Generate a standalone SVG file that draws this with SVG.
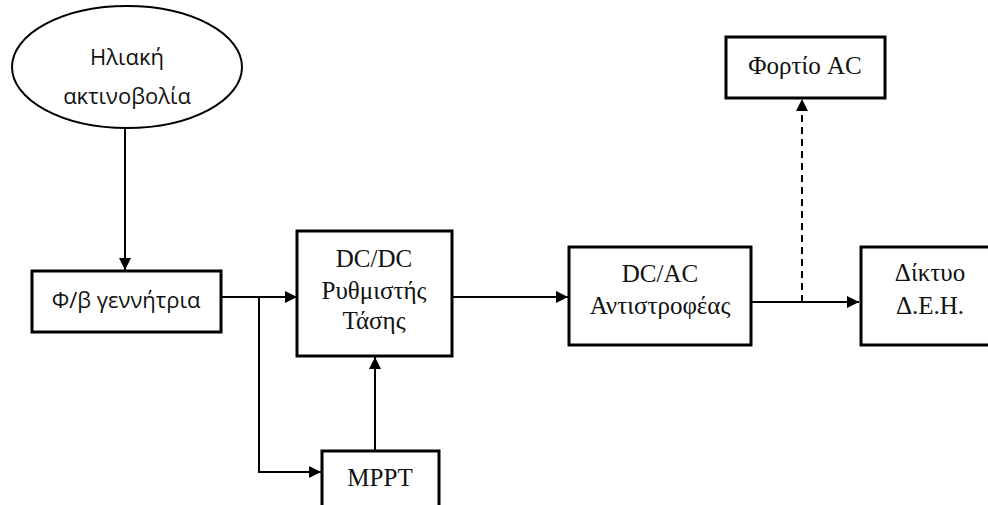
<svg xmlns="http://www.w3.org/2000/svg" width="988" height="505" viewBox="0 0 988 505">
<defs>
<marker id="ah" viewBox="0 0 12 12" refX="12" refY="6" markerWidth="12" markerHeight="12" markerUnits="userSpaceOnUse" orient="auto">
<path d="M0,0 L12,6 L0,12 Z" fill="#000"/>
</marker>
</defs>
<style>
.box{fill:#fff;stroke:#000;stroke-width:3}
.sans{font-family:"Open Sans","Liberation Sans",sans-serif;font-size:22px;fill:#111;text-anchor:middle}
.serif{font-family:"Liberation Serif","DejaVu Serif",serif;font-size:25px;fill:#111;text-anchor:middle}
.ln{fill:none;stroke:#000;stroke-width:2}
.dash{stroke-dasharray:7,5}
</style>
<rect width="988" height="505" fill="#fff"/>
<g id="connectors">
<path class="ln" d="M125,129 V270" marker-end="url(#ah)"/>
<path class="ln" d="M221,297 H297" marker-end="url(#ah)"/>
<path class="ln" d="M259,297 V472 H321" marker-end="url(#ah)"/>
<path class="ln" d="M375,450 V357" marker-end="url(#ah)"/>
<path class="ln" d="M452,297 H568" marker-end="url(#ah)"/>
<path class="ln" d="M751,302 H859" marker-end="url(#ah)"/>
<path class="ln dash" d="M802,302 V99" marker-end="url(#ah)"/>
</g>
<g id="sun">
<ellipse cx="127" cy="67" rx="115" ry="61" fill="#fff" stroke="#000" stroke-width="2"/>
<text class="sans" x="127" y="65">Ηλιακή</text>
<text class="sans" x="127" y="104">ακτινοβολία</text>
</g>
<g id="pv">
<rect class="box" x="32" y="271" width="189" height="61"/>
<text class="sans" x="126" y="308">Φ/β γεννήτρια</text>
</g>
<g id="dcdc">
<rect class="box" x="297" y="231" width="155" height="125"/>
<text class="serif" x="374" y="267">DC/DC</text>
<text class="serif" x="374" y="299">Ρυθμιστής</text>
<text class="serif" x="374" y="329">Τάσης</text>
</g>
<g id="mppt">
<rect class="box" x="322" y="451" width="117" height="60"/>
<text class="serif" x="380" y="486">MPPT</text>
</g>
<g id="dcac">
<rect class="box" x="569" y="247" width="182" height="98"/>
<text class="serif" x="660" y="282">DC/AC</text>
<text class="serif" x="660" y="314">Αντιστροφέας</text>
</g>
<g id="grid">
<rect class="box" x="861" y="247" width="140" height="98"/>
<text class="serif" x="930" y="281">Δίκτυο</text>
<text class="serif" x="930" y="314">Δ.Ε.Η.</text>
</g>
<g id="load">
<rect class="box" x="726" y="37" width="159" height="61"/>
<text class="serif" x="805" y="74">Φορτίο AC</text>
</g>
</svg>
